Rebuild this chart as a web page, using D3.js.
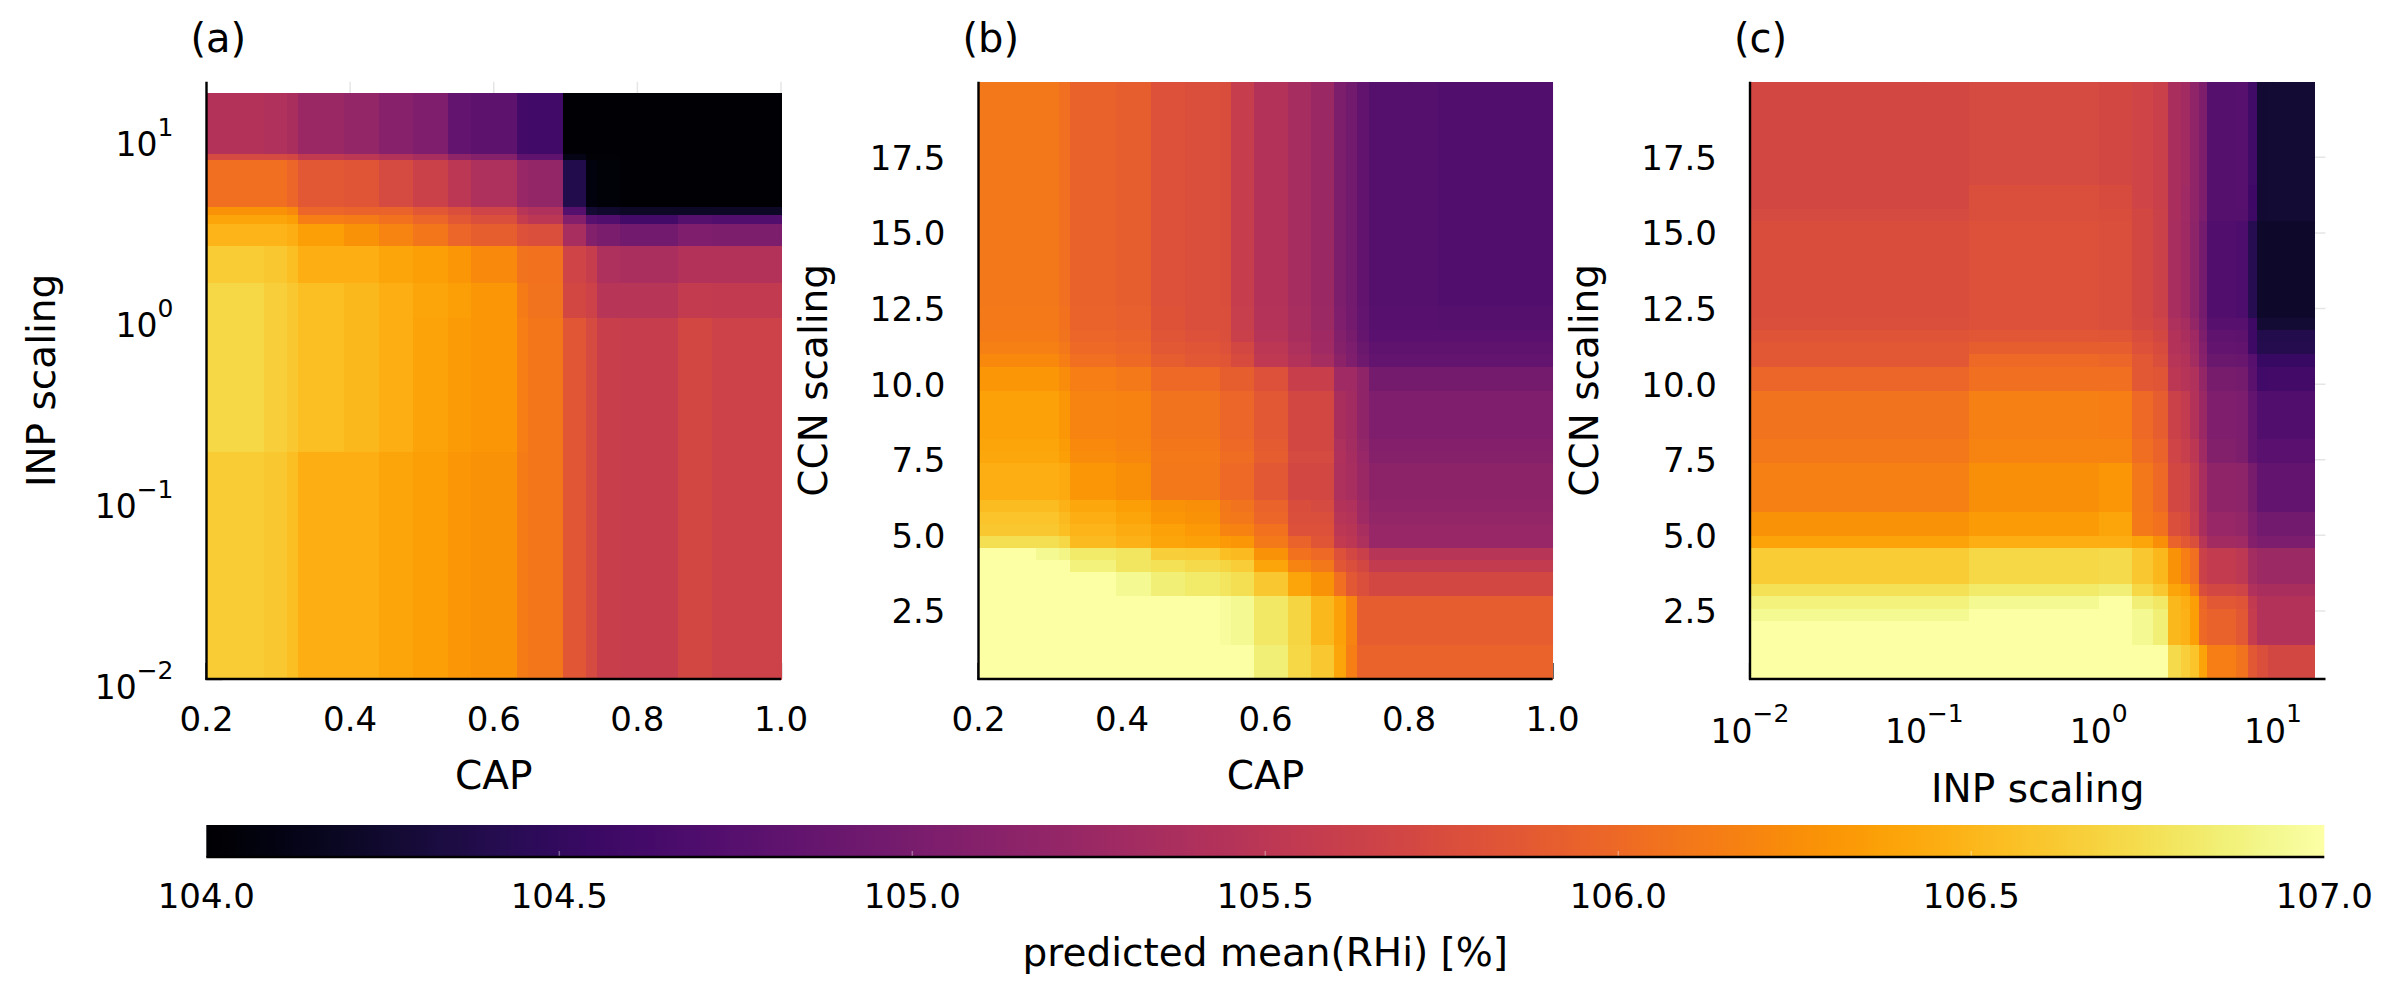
<!DOCTYPE html>
<html>
<head>
<meta charset="utf-8">
<script src="https://cdn.jsdelivr.net/npm/d3@7"></script>
<style>
  body { margin: 0; background: #fff; }
  text { font-family: "DejaVu Sans", sans-serif; fill: #000; }
</style>
</head>
<body>
<svg id="chart" width="2389" height="993"></svg>
<script>
// ---------------- DATA ----------------
const colorDomain = [104, 107];
const colorbarTicks = [104.0, 104.5, 105.0, 105.5, 106.0, 106.5, 107.0];
const colorbarLabel = "predicted mean(RHi) [%]";
const panelTitles = ["(a)", "(b)", "(c)"];
const capTicks = [0.2, 0.4, 0.6, 0.8, 1.0];
const ccnTicks = [2.5, 5.0, 7.5, 10.0, 12.5, 15.0, 17.5];
const inpTicks = [0.01, 0.1, 1, 10];

// Panel (a): CAP (x) vs INP scaling (y, log)
const capEdgesA = [0.2, 0.28, 0.312, 0.328, 0.392, 0.44, 0.488, 0.536, 0.568, 0.632, 0.648, 0.696, 0.728, 0.744, 0.776, 0.856, 0.904, 1.0];
const inpEdgesA = [0.01, 0.18, 1.0, 1.55, 2.5, 3.3, 3.7, 4.1, 7.4, 8.05, 17.3];
const rhiA = [ // rows bottom -> top
  [106.63,106.61,106.55,106.46,106.45,106.40,106.36,106.30,106.28,106.13,106.09,105.85,105.73,105.61,105.59,105.71,105.65],
  [106.70,106.66,106.61,106.55,106.51,106.45,106.39,106.34,106.30,106.15,106.09,105.85,105.73,105.61,105.59,105.71,105.65],
  [106.70,106.66,106.61,106.55,106.51,106.45,106.40,106.36,106.30,106.13,106.07,105.71,105.65,105.47,105.47,105.56,105.55],
  [106.63,106.61,106.55,106.46,106.45,106.40,106.36,106.30,106.22,106.07,106.06,105.67,105.59,105.40,105.38,105.44,105.43],
  [106.49,106.49,106.45,106.36,106.28,106.19,106.09,105.98,105.92,105.80,105.77,105.35,105.07,105.01,104.96,105.05,105.04],
  [106.40,106.40,106.36,106.15,106.13,106.06,105.97,105.86,105.77,105.58,105.50,105.08,104.75,104.72,104.62,104.74,104.72],
  [106.28,106.28,106.22,105.98,105.95,105.95,105.86,105.77,105.67,105.47,105.41,104.74,104.27,104.24,104.21,104.21,104.20],
  [106.04,106.04,105.97,105.86,105.83,105.73,105.64,105.50,105.40,105.23,105.20,104.39,104.08,104.04,104.02,104.02,104.02],
  [105.73,105.73,105.70,105.55,105.50,105.44,105.35,105.17,105.10,104.81,104.81,104.12,104.03,104.03,104.02,104.02,104.02],
  [105.43,105.41,105.37,105.25,105.20,105.11,105.05,104.84,104.80,104.62,104.60,104.02,104.02,104.02,104.02,104.02,104.02]
];

// Panel (b): CAP (x) vs CCN scaling (y)
const capEdgesB = [0.2, 0.28, 0.312, 0.328, 0.392, 0.44, 0.488, 0.536, 0.552, 0.584, 0.632, 0.664, 0.696, 0.712, 0.728, 0.744, 0.84, 1.0];
const ccnEdgesB = [0.25, 1.4, 3.0, 3.8, 4.2, 4.6, 5.0, 5.4, 5.8, 6.2, 7.4, 7.8, 8.2, 9.8, 10.6, 11.0, 11.4, 11.8, 12.6, 20];
const rhiB = [ // rows bottom -> top
  [107,107,107,107,107,107,107,107,107,106.85,106.70,106.61,106.40,106.15,105.95,105.95,105.95],
  [107,107,107,107,107,107,107,106.97,106.93,106.81,106.69,106.51,106.37,106.19,105.91,105.91,105.91],
  [107,107,107,106.99,106.93,106.85,106.82,106.78,106.75,106.61,106.40,106.28,106.04,105.86,105.77,105.70,105.71],
  [107,107,107,106.88,106.80,106.76,106.72,106.69,106.64,106.40,106.19,106.10,105.85,105.77,105.70,105.56,105.56],
  [106.99,106.93,106.90,106.82,106.79,106.66,106.64,106.55,106.52,106.28,106.06,106.00,105.80,105.71,105.62,105.47,105.47],
  [106.75,106.75,106.70,106.52,106.48,106.40,106.37,106.33,106.30,106.12,105.95,105.83,105.55,105.50,105.40,105.23,105.23],
  [106.61,106.61,106.55,106.49,106.44,106.37,106.33,106.19,106.17,106.06,105.80,105.80,105.50,105.48,105.35,105.22,105.22],
  [106.58,106.58,106.52,106.45,106.40,106.31,106.28,106.12,106.10,105.98,105.77,105.77,105.47,105.45,105.30,105.20,105.20],
  [106.54,106.54,106.48,106.42,106.36,106.28,106.25,106.10,106.07,105.95,105.76,105.73,105.43,105.41,105.28,105.17,105.17],
  [106.46,106.46,106.43,106.31,106.25,106.10,106.10,106.00,106.00,105.86,105.71,105.71,105.40,105.35,105.25,105.14,105.14],
  [106.42,106.42,106.36,106.24,106.21,106.11,106.11,106.02,106.02,105.90,105.73,105.73,105.41,105.34,105.22,105.10,105.10],
  [106.40,106.40,106.34,106.22,106.19,106.09,106.09,106.00,106.00,105.88,105.71,105.71,105.39,105.32,105.20,105.08,105.08],
  [106.37,106.37,106.31,106.19,106.17,106.07,106.07,105.98,105.98,105.86,105.70,105.70,105.37,105.31,105.17,105.05,105.05],
  [106.30,106.30,106.24,106.15,106.12,106.00,106.00,105.92,105.92,105.80,105.61,105.61,105.29,105.29,105.17,104.98,104.98],
  [106.22,106.22,106.15,106.04,106.01,105.90,105.86,105.83,105.74,105.53,105.44,105.34,105.14,105.05,104.93,104.84,104.84],
  [106.16,106.16,106.10,106.00,105.98,105.86,105.83,105.80,105.71,105.50,105.40,105.30,105.10,105.02,104.90,104.81,104.81],
  [106.13,106.13,106.07,105.97,105.95,105.83,105.80,105.78,105.62,105.46,105.37,105.28,105.07,104.99,104.86,104.77,104.77],
  [106.12,106.12,106.06,105.95,105.93,105.81,105.78,105.77,105.60,105.45,105.35,105.26,105.05,104.97,104.84,104.75,104.74],
  [106.10,106.10,106.04,105.94,105.92,105.80,105.77,105.76,105.59,105.44,105.34,105.25,105.04,104.96,104.83,104.74,104.72]
];

// Panel (c): INP scaling (x, log) vs CCN scaling (y)
const inpEdgesC = [0.01, 0.18, 1.0, 1.55, 2.05, 2.5, 2.95, 3.35, 3.75, 4.2, 6.1, 7.2, 8.1, 9.4, 17.3];
const ccnEdgesC = [0.25, 1.4, 2.2, 2.6, 3.0, 3.4, 3.8, 4.6, 5.0, 5.8, 7.4, 8.2, 9.8, 10.6, 11.0, 11.4, 11.8, 12.2, 15.4, 15.8, 16.6, 20];
const rhiC = [ // rows bottom -> top
  [107,107,107,107,107,106.72,106.66,106.58,106.39,106.15,106.07,105.86,105.77,105.71],
  [107,107,107,106.94,106.85,106.51,106.48,106.36,106.00,105.94,105.86,105.58,105.44,105.44],
  [106.94,107,107,106.94,106.85,106.51,106.48,106.36,106.00,105.94,105.86,105.58,105.44,105.44],
  [106.88,106.94,107,106.85,106.81,106.51,106.45,106.36,105.98,105.86,105.82,105.55,105.44,105.44],
  [106.76,106.82,106.85,106.70,106.61,106.40,106.36,106.16,105.76,105.71,105.67,105.41,105.37,105.37],
  [106.63,106.70,106.72,106.61,106.51,106.28,106.15,106.04,105.64,105.56,105.52,105.32,105.26,105.26],
  [106.63,106.70,106.72,106.61,106.51,106.28,106.15,106.04,105.64,105.56,105.52,105.32,105.26,105.26],
  [106.39,106.46,106.46,106.40,106.25,105.95,105.86,105.77,105.47,105.31,105.29,105.08,105.02,105.02],
  [106.28,106.34,106.40,106.12,106.06,105.77,105.74,105.59,105.37,105.22,105.20,105.05,104.96,104.96],
  [106.16,106.25,106.31,106.10,106.00,105.71,105.68,105.56,105.35,105.17,105.15,104.99,104.84,104.84],
  [106.10,106.19,106.18,106.03,105.95,105.67,105.60,105.50,105.30,105.07,105.04,104.84,104.77,104.77],
  [106.07,106.16,106.15,106.00,105.91,105.64,105.56,105.44,105.25,105.05,105.02,104.84,104.72,104.72],
  [105.98,106.04,106.04,105.86,105.83,105.50,105.46,105.41,105.20,104.99,104.98,104.78,104.60,104.62],
  [105.86,106.00,105.97,105.86,105.77,105.47,105.44,105.32,105.11,104.90,104.89,104.75,104.53,104.53],
  [105.86,105.92,105.90,105.80,105.74,105.44,105.40,105.30,105.08,104.84,104.83,104.57,104.40,104.40],
  [105.82,105.85,105.83,105.76,105.70,105.44,105.37,105.28,105.04,104.81,104.80,104.57,104.39,104.39],
  [105.77,105.80,105.78,105.72,105.67,105.40,105.34,105.20,105.00,104.75,104.75,104.57,104.27,104.27],
  [105.76,105.80,105.78,105.70,105.64,105.35,105.28,105.16,104.98,104.72,104.69,104.42,104.23,104.23],
  [105.73,105.77,105.76,105.70,105.64,105.37,105.30,105.17,105.02,104.74,104.74,104.57,104.26,104.27],
  [105.71,105.77,105.74,105.67,105.62,105.37,105.30,105.17,105.04,104.74,104.75,104.58,104.26,104.27],
  [105.70,105.73,105.71,105.67,105.62,105.37,105.31,105.17,105.04,104.74,104.75,104.59,104.26,104.27]
];

// ---------------- DRAWING ----------------
const svg = d3.select("#chart");
const color = d3.scaleSequential(d3.interpolateInferno).domain(colorDomain);

const TOP = 81.7, BOTTOM = 679;
const TICKFS = 34, GUIDEFS = 39, TITLEFS = 40, SUPFS = 25, BASEFS = 33;
const fmt1 = d3.format(".1f");
const expo = v => { const e = Math.round(Math.log10(v)); return (e < 0 ? "\u2212" : "") + Math.abs(e); };

const panels = [
  { title: panelTitles[0], x0: 206.5, x1: 781, xLog: false, xDomain: [0.2, 1.0], xTicks: capTicks, xLabel: "CAP",
    yLog: true, yDomain: [0.01, 20], yTicks: inpTicks, yLabel: "INP scaling",
    xEdges: capEdgesA, yEdges: inpEdgesA, z: rhiA },
  { title: panelTitles[1], x0: 978.5, x1: 1552.5, xLog: false, xDomain: [0.2, 1.0], xTicks: capTicks, xLabel: "CAP",
    yLog: false, yDomain: [0.25, 20], yTicks: ccnTicks, yLabel: "CCN scaling",
    xEdges: capEdgesB, yEdges: ccnEdgesB, z: rhiB },
  { title: panelTitles[2], x0: 1750, x1: 2325.5, xLog: true, xDomain: [0.01, 20], xTicks: inpTicks, xLabel: "INP scaling",
    yLog: false, yDomain: [0.25, 20], yTicks: ccnTicks, yLabel: "CCN scaling",
    xEdges: inpEdgesC, yEdges: ccnEdgesC, z: rhiC }
];

panels.forEach(p => {
  const g = svg.append("g");
  const xs = (p.xLog ? d3.scaleLog() : d3.scaleLinear()).domain(p.xDomain).range([p.x0, p.x1]);
  const ys = (p.yLog ? d3.scaleLog() : d3.scaleLinear()).domain(p.yDomain).range([BOTTOM, TOP]);

  // grid
  g.selectAll(null).data(p.xTicks).join("line")
    .attr("x1", d => xs(d)).attr("x2", d => xs(d)).attr("y1", TOP).attr("y2", BOTTOM)
    .attr("stroke", "#000").attr("stroke-opacity", 0.1).attr("stroke-width", 1.5);
  g.selectAll(null).data(p.yTicks).join("line")
    .attr("y1", d => ys(d)).attr("y2", d => ys(d)).attr("x1", p.x0).attr("x2", p.x1)
    .attr("stroke", "#000").attr("stroke-opacity", 0.1).attr("stroke-width", 1.5);

  // inward ticks (mostly hidden by the heatmap)
  g.selectAll(null).data(p.xTicks).join("line")
    .attr("x1", d => xs(d)).attr("x2", d => xs(d)).attr("y1", BOTTOM).attr("y2", BOTTOM - 16)
    .attr("stroke", "#000").attr("stroke-width", 2.2);
  g.selectAll(null).data(p.yTicks).join("line")
    .attr("y1", d => ys(d)).attr("y2", d => ys(d)).attr("x1", p.x0).attr("x2", p.x0 + 16)
    .attr("stroke", "#000").attr("stroke-width", 2.2);

  // heatmap cells
  const cells = [];
  p.z.forEach((row, j) => row.forEach((v, i) => cells.push({ i, j, v })));
  g.append("g").attr("shape-rendering", "crispEdges").selectAll("rect").data(cells).join("rect")
    .attr("x", d => xs(p.xEdges[d.i]))
    .attr("y", d => ys(p.yEdges[d.j + 1]))
    .attr("width", d => xs(p.xEdges[d.i + 1]) - xs(p.xEdges[d.i]) + 0.6)
    .attr("height", d => ys(p.yEdges[d.j]) - ys(p.yEdges[d.j + 1]) + 0.6)
    .attr("fill", d => color(d.v));

  // axis lines
  g.append("line").attr("x1", p.x0).attr("x2", p.x0).attr("y1", TOP).attr("y2", BOTTOM + 1)
    .attr("stroke", "#000").attr("stroke-width", 2.4);
  g.append("line").attr("x1", p.x0 - 1).attr("x2", p.x1).attr("y1", BOTTOM).attr("y2", BOTTOM)
    .attr("stroke", "#000").attr("stroke-width", 2.4);

  // x tick labels
  if (p.xLog) {
    p.xTicks.forEach(t => {
      const tx = g.append("text").attr("x", xs(t)).attr("y", 743).attr("text-anchor", "middle")
        .attr("font-size", BASEFS).text("10");
      tx.append("tspan").attr("dy", -21).attr("font-size", SUPFS).text(expo(t));
    });
  } else {
    g.selectAll(null).data(p.xTicks).join("text")
      .attr("x", d => xs(d)).attr("y", 731).attr("text-anchor", "middle")
      .attr("font-size", TICKFS).text(d => fmt1(d));
  }

  // y tick labels
  if (p.yLog) {
    p.yTicks.forEach(t => {
      const ty = g.append("text").attr("x", p.x0 - 33).attr("y", ys(t) + 20).attr("text-anchor", "end")
        .attr("font-size", BASEFS).text("10");
      ty.append("tspan").attr("dy", -20).attr("font-size", SUPFS).text(expo(t));
    });
  } else {
    g.selectAll(null).data(p.yTicks).join("text")
      .attr("x", p.x0 - 33).attr("y", d => ys(d) + 12.4).attr("text-anchor", "end")
      .attr("font-size", TICKFS).text(d => fmt1(d));
  }

  // axis labels
  g.append("text").attr("x", (p.x0 + p.x1) / 2).attr("y", p.xLog ? 802 : 789)
    .attr("text-anchor", "middle").attr("font-size", GUIDEFS).text(p.xLabel);
  g.append("text").attr("transform", `translate(${p.x0 - 152},${(TOP + BOTTOM) / 2}) rotate(-90)`)
    .attr("text-anchor", "middle").attr("font-size", GUIDEFS).text(p.yLabel);

  // panel title
  g.append("text").attr("x", p.x0 - 16).attr("y", 52).attr("font-size", TITLEFS).text(p.title);
});

// ---------------- COLORBAR ----------------
const cbX0 = 206.3, cbX1 = 2324.3, cbY0 = 825, cbY1 = 857;
const cbScale = d3.scaleLinear().domain(colorDomain).range([cbX0, cbX1]);
const defs = svg.append("defs");
const grad = defs.append("linearGradient").attr("id", "cbgrad").attr("x1", "0%").attr("x2", "100%").attr("y1", "0%").attr("y2", "0%");
d3.range(0, 1.0001, 0.01).forEach(t => {
  grad.append("stop").attr("offset", (t * 100) + "%").attr("stop-color", color(colorDomain[0] + t * (colorDomain[1] - colorDomain[0])));
});
svg.append("rect").attr("x", cbX0).attr("y", cbY0).attr("width", cbX1 - cbX0).attr("height", cbY1 - cbY0)
  .attr("fill", "url(#cbgrad)");
svg.selectAll(".cbtick").data(colorbarTicks.slice(1, -1)).join("line")
  .attr("x1", d => cbScale(d)).attr("x2", d => cbScale(d)).attr("y1", cbY1).attr("y2", cbY1 - 6)
  .attr("stroke", "#fff").attr("stroke-opacity", 0.35).attr("stroke-width", 1.5);
svg.append("line").attr("x1", cbX0).attr("x2", cbX1).attr("y1", cbY1).attr("y2", cbY1)
  .attr("stroke", "#000").attr("stroke-width", 2.4);
svg.selectAll(".cblab").data(colorbarTicks).join("text")
  .attr("x", d => cbScale(d)).attr("y", 908).attr("text-anchor", "middle")
  .attr("font-size", TICKFS).text(d => fmt1(d));
svg.append("text").attr("x", (cbX0 + cbX1) / 2).attr("y", 966).attr("text-anchor", "middle")
  .attr("font-size", GUIDEFS).text(colorbarLabel);
</script>
</body>
</html>
